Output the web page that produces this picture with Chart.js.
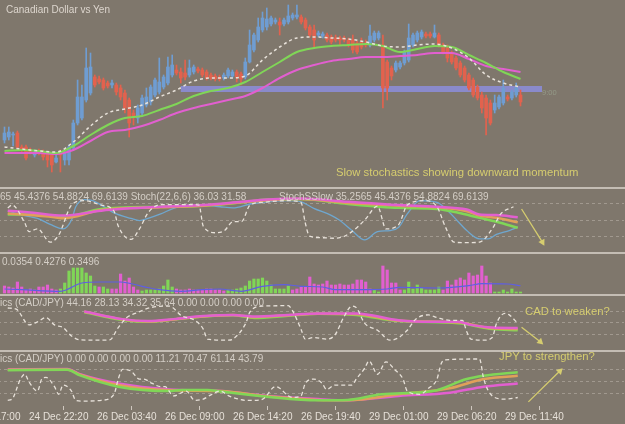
<!DOCTYPE html>
<html lang="en">
<head>
<meta charset="UTF-8">
<title>Canadian Dollar vs Yen</title>
<script src="https://cdn.jsdelivr.net/npm/chart.js"></script>
<style>
  html, body { margin: 0; padding: 0; }
  body { width: 625px; height: 424px; overflow: hidden; position: relative; background: #7f776c; font-family: "Liberation Sans", Arial, sans-serif; }
  canvas { position: absolute; left: -60px; }
  .sep { position: absolute; left: 0; width: 625px; height: 2px; background: #c4bdb4; }
  .lbl { position: absolute; white-space: nowrap; font-size: 10px; line-height: 12px; color: #d4cec6; }
  .note { position: absolute; white-space: nowrap; font-size: 11.3px; line-height: 13px; color: #d6cd6f; }
</style>
</head>
<body>
<canvas id="price" width="688" height="187" style="top:0"></canvas>
<canvas id="slow" width="688" height="63" style="top:189px"></canvas>
<canvas id="hist" width="688" height="40" style="top:254px"></canvas>
<canvas id="cad" width="688" height="54" style="top:296px"></canvas>
<canvas id="jpy" width="688" height="72" style="top:352px"></canvas>

<div class="sep" style="top:187px"></div>
<div class="sep" style="top:252px"></div>
<div class="sep" style="top:294px"></div>
<div class="sep" style="top:350px"></div>

<div class="lbl" style="left:6px; top:4px; color:#ddd6ce">Canadian Dollar vs Yen</div>
<div class="lbl" style="left:542px; top:87px; font-size:7.5px; color:#949a88">9:00</div>
<div class="lbl" style="left:-25px; top:191px">35.2565 45.4376 54.8824 69.6139 Stoch(22,6,6) 36.03 31.58</div>
<div class="lbl" style="left:279px; top:191px">StochSSlow 35.2565 45.4376 54.8824 69.6139</div>
<div class="lbl" style="left:2px; top:256px">0.0354 0.4276 0.3496</div>
<div class="lbl" style="left:-39px; top:297px">Stochastics (CAD/JPY) 44.16 28.13 34.32 35.64 0.00 0.00 0.00 0.00</div>
<div class="lbl" style="left:-39px; top:353px">Stochastics (CAD/JPY) 0.00 0.00 0.00 0.00 11.21 70.47 61.14 43.79</div>

<div class="note" style="left:336px; top:166px">Slow stochastics showing downward momentum</div>
<div class="note" style="left:525px; top:305px">CAD to weaken?</div>
<div class="note" style="left:499px; top:350px">JPY to strengthen?</div>

<script>
  // 20 minute bars, a time label every 16 bars
  const tickBars = [-11, 5, 21, 37, 53, 69, 85, 101, 117];
  const tickText = ['24 Dec 17:00', '24 Dec 22:20', '26 Dec 03:40', '26 Dec 09:00', '26 Dec 14:20',
    '26 Dec 19:40', '29 Dec 01:00', '29 Dec 06:20', '29 Dec 11:40'];

  // candles (price offset in chart units)
  const opens = [
    47, 50, 52, 54, 40, 40, 37, 32, 36, 35,
    33, 32, 25, 35, 27, 27, 39, 64, 69, 87,
    94, 110, 108, 107, 104, 102, 102, 99, 94, 87,
    74, 69, 74, 82, 85, 92, 95, 100, 104, 112,
    117, 115, 114, 112, 115, 118, 117, 115, 112, 111,
    110, 109, 111, 111, 115, 113, 110, 125, 137, 147,
    157, 160, 163, 165, 165, 163, 165, 169, 170, 170,
    167, 160, 157, 152, 151, 152, 150, 149, 149, 149,
    147, 147, 144, 145, 144, 142, 147, 149, 142, 125,
    119, 117, 120, 124, 127, 142, 147, 150, 153, 153,
    150, 152, 142, 139, 134, 129, 124, 119, 112, 107,
    100, 92, 89, 84, 77, 80, 84, 90, 89, 92,
    92];
  const closes = [
    54, 55, 53, 40, 37, 29, 35, 35, 34, 30,
    27, 22, 29, 32, 34, 40, 64, 90, 90, 119,
    120, 102, 105, 99, 101, 104, 95, 90, 79, 64,
    70, 79, 89, 90, 100, 107, 105, 110, 120, 122,
    114, 109, 110, 119, 120, 116, 112, 109, 109, 108,
    108, 112, 117, 115, 110, 108, 125, 142, 152, 160,
    169, 168, 169, 167, 162, 167, 171, 172, 172, 165,
    159, 152, 147, 154, 153, 147, 145, 147, 147, 147,
    142, 137, 135, 140, 142, 151, 154, 154, 99, 99,
    111, 124, 124, 135, 149, 152, 154, 155, 151, 151,
    154, 142, 135, 129, 125, 119, 112, 107, 99, 92,
    89, 79, 69, 64, 84, 90, 99, 88, 95, 99,
    85];
  const highs = [
    60, 60, 55, 56, 42, 42, 39, 37, 38, 37,
    35, 34, 32, 37, 37, 42, 67, 107, 102, 139,
    134, 112, 111, 109, 106, 107, 104, 102, 97, 89,
    77, 82, 92, 99, 102, 109, 129, 112, 130, 132,
    122, 119, 127, 127, 122, 120, 119, 117, 114, 113,
    112, 114, 119, 117, 117, 115, 129, 157, 154, 169,
    175, 179, 171, 169, 169, 169, 182, 174, 182, 172,
    169, 162, 162, 156, 155, 154, 152, 152, 151, 151,
    149, 152, 146, 149, 147, 162, 156, 156, 152, 127,
    121, 126, 126, 137, 163, 154, 156, 157, 155, 155,
    162, 154, 144, 142, 136, 131, 126, 121, 114, 109,
    102, 95, 92, 87, 92, 92, 107, 92, 97, 104,
    97];
  const lows = [
    44, 47, 41, 38, 35, 27, 33, 30, 32, 27,
    20, 15, 24, 15, 22, 22, 37, 62, 67, 85,
    92, 100, 103, 97, 99, 99, 92, 87, 74, 50,
    62, 64, 72, 80, 82, 90, 93, 98, 102, 110,
    112, 104, 107, 110, 113, 114, 110, 107, 107, 106,
    106, 107, 109, 109, 105, 102, 108, 124, 135, 145,
    155, 157, 161, 163, 152, 161, 163, 167, 168, 163,
    157, 150, 139, 150, 149, 145, 143, 145, 142, 145,
    140, 134, 133, 138, 140, 140, 145, 147, 79, 87,
    107, 115, 118, 122, 125, 140, 145, 148, 149, 149,
    149, 140, 133, 125, 123, 117, 110, 105, 97, 90,
    87, 74, 52, 62, 74, 78, 82, 86, 87, 90,
    81];

  // moving averages, read every 4th bar
  const maStep = 4;
  const maFast = [40, 38, 36, 35, 45, 61, 74, 78, 82, 90, 97, 106, 109, 109, 111, 127,
    140, 149, 150, 149, 148, 145, 141, 140, 142, 143, 139, 129, 112, 104, 100];
  const maMid = [36, 37, 36, 34, 41, 52, 62, 69, 71, 77, 83, 91, 96, 99, 105, 115,
    125, 135, 139, 141, 142, 143, 141, 135, 138, 141, 140, 132, 124, 115, 108];
  const maSlow = [34, 34, 34, 33, 37, 46, 55, 57, 61, 67, 74, 79, 83, 87, 91, 99,
    109, 117, 122, 126, 128, 130, 130, 131, 132, 134, 134, 128, 121, 118, 115];
  const levelLine = [[41, 98], [125, 98]];

  // histogram: + green bars, - magenta bars
  const histogram = [
    -7, -6, -5, -11, -6, -3, -4, -3, -6, -6,
    -8, -4, -3, 4, 10, 22, 25, 25, 25, 20,
    17, 7, -6, 6, 4, -4, -4, -19, -12, -15,
    -6, -3, 2, 3, 3, 3, 4, 7, 13, 6,
    -4, -3, -3, -4, -3, -3, -3, -4, -4, -3,
    -3, -2, 3, 3, 4, 5, 7, 12, 14, 14,
    15, 12, 8, 4, 4, 4, 7, -3, -4, -6,
    -6, -16, -9, -8, -9, -12, -8, -8, -9, -8,
    -8, -9, -13, -13, -11, -4, 3, 1, -27, -23,
    -10, -10, -3, 3, 11, 4, 8, 5, 3, 3,
    3, 6, -3, -12, -8, -13, -15, -13, -20, -17,
    -18, -27, -17, -10, 1, 1, 3, 1, 4, 1,
    1];
  const histSignal = [[0, 4], [4, 3.3], [13, 1.7], [18, 10], [22, 11], [27, 11], [32, 6.7], [36, 3.3],
    [41, 1.7], [46, 3.3], [50, 4], [55, 1.7], [60, 6.7], [65, 8.3], [69, 6.7], [74, 6], [77, 3.3],
    [84, 3.3], [89, 4], [92, 5.7], [101, 5], [108, 7.3], [111, 9.3], [117, 9], [120, 7.3]];

  // slow stochastics panel (bar, value)
  const slowMain = [[0, 72], [1, 77], [4, 45], [5, 29], [7, 34], [10, 10], [12, 23], [15, 77], [18, 85],
    [22, 77], [25, 66], [26, 39], [29, 15], [31, 34], [33, 63], [36, 78], [43, 78], [45, 77], [46, 39],
    [49, 27], [51, 31], [53, 47], [55, 47], [57, 77], [60, 82], [66, 85], [69, 82], [70, 45], [71, 21],
    [74, 18], [77, 17], [79, 20], [81, 29], [84, 50], [87, 75], [89, 34], [92, 42], [94, 77], [98, 85],
    [101, 74], [103, 37], [105, 10], [108, 9], [111, 10], [114, 34], [116, 61], [119, 74]];
  const slowSignal = [[0, 66], [4, 58], [7, 53], [10, 42], [13, 34], [15, 50], [16, 74], [18, 87], [20, 85],
    [22, 77], [25, 63], [29, 53], [31, 49], [33, 53], [36, 61], [39, 71], [43, 77], [46, 77], [50, 74],
    [53, 72], [57, 79], [61, 83], [66, 85], [69, 83], [72, 71], [76, 59], [78, 50], [81, 31], [84, 14],
    [87, 29], [90, 31], [92, 37], [94, 61], [97, 85], [101, 82], [103, 71], [106, 47], [108, 31],
    [111, 16], [113, 16], [115, 24], [118, 31], [120, 37]];
  const slowMagenta = [[0, 67], [6, 63], [13, 58], [22, 67], [36, 74], [46, 77], [55, 83], [61, 87], [69, 89],
    [80, 83], [92, 77], [101, 74], [108, 69], [111, 60], [115, 59], [120, 55]];
  const slowOrange = [[0, 62], [11, 55], [13, 53], [22, 68], [36, 73], [46, 76], [55, 82], [61, 86], [69, 88],
    [80, 81], [92, 76], [104, 71], [108, 66], [111, 58], [115, 54], [120, 46]];
  const slowGreen = [[0, 60], [6, 60], [13, 55], [22, 70], [36, 74], [46, 76], [55, 82], [61, 87], [69, 88],
    [80, 79], [92, 72], [101, 70], [106, 63], [111, 54], [115, 47], [120, 36]];

  // Stochastics (CAD/JPY), first panel
  const cadMain = [[0, 88], [2, 85], [5, 44], [7, 52], [9, 63], [11, 44], [13, 37], [15, 15], [17, 5], [21, 4],
    [24, 5], [26, 37], [28, 63], [30, 74], [34, 90], [38, 93], [41, 67], [44, 56], [46, 33], [47, 7],
    [52, 4], [53, 7], [56, 48], [57, 78], [60, 93], [66, 94], [67, 81], [69, 33], [70, 7], [72, 11],
    [75, 7], [77, 18], [79, 63], [81, 93], [82, 89], [84, 48], [87, 30], [90, 4], [92, 11], [94, 30],
    [96, 59], [99, 70], [101, 63], [104, 56], [107, 56], [108, 26], [109, 7], [112, 4], [114, 11],
    [115, 48], [117, 74], [118, 70], [120, 48]];
  const cadMagenta = [[18, 79], [27, 59], [33, 54], [39, 59], [46, 67], [53, 70], [58, 66], [66, 70], [73, 74],
    [82, 74], [92, 56], [100, 52], [106, 52], [109, 44], [114, 37], [120, 36]];
  const cadOrange = [[18, 78], [27, 58], [33, 53], [39, 58], [46, 66], [53, 70], [58, 64], [66, 69], [73, 73],
    [82, 72], [92, 55], [106, 50], [114, 35], [120, 33]];
  const cadGreen = [[18, 77], [27, 57], [33, 52], [39, 58], [46, 66], [53, 69], [58, 62], [66, 68], [73, 73],
    [82, 70], [92, 54], [106, 48], [114, 33], [120, 30]];

  // Stochastics (CAD/JPY), second panel
  const jpyMain = [[0, 2], [1, 5], [3, 55], [4, 67], [5, 48], [7, 25], [8, 55], [9, 59], [11, 36], [12, 17],
    [13, 40], [15, 25], [16, 2], [18, 0], [22, 2], [25, 17], [26, 55], [27, 79], [29, 75], [31, 55],
    [32, 55], [34, 44], [36, 36], [37, 36], [39, 13], [42, 25], [44, 2], [46, 5], [48, 17], [50, 25],
    [52, 13], [53, 9], [56, 2], [58, 2], [60, 5], [63, 36], [64, 32], [66, 13], [67, 9], [69, 13],
    [70, 44], [72, 55], [74, 44], [75, 29], [77, 40], [81, 40], [82, 55], [84, 82], [85, 100], [87, 67],
    [89, 98], [91, 79], [93, 55], [94, 25], [97, 17], [99, 32], [101, 55], [102, 94], [103, 103],
    [111, 105], [112, 55], [114, 13], [117, 5], [120, 9]];
  const jpyMagenta = [[0, 79], [14, 80], [17, 67], [26, 44], [38, 29], [50, 25], [61, 13], [73, 5], [80, 2],
    [92, 13], [104, 21], [112, 36], [120, 44]];
  const jpyOrange = [[0, 78], [14, 79], [17, 66], [26, 40], [38, 27], [50, 25], [61, 12], [73, 3], [80, 2],
    [92, 17], [104, 32], [112, 55], [120, 63]];
  const jpyGreen = [[0, 77], [14, 78], [17, 64], [26, 36], [38, 25], [41, 28], [47, 28], [50, 24], [61, 11],
    [73, 2], [80, 3], [88, 17], [100, 25], [108, 55], [112, 63], [120, 72]];

  // annotation arrows (bar, value)
  const arrowSlow = [[120.9, 70], [125.8, 10]];
  const arrowCad = [[120.9, 38], [125.3, 0]];
  const arrowJpy = [[122.5, -2], [129.9, 75]];

  const BLUE = '#6f9dd2', RED = '#e2624e', GREEN = '#80d657', MAGENTA = '#e25fd0', ORANGE = '#e0a05a';
  const DASH = '#e8e2da', YELLOW = '#d6cd6f';
  const X_MIN = -15, X_MAX = 145;

  Chart.defaults.font.family = "'Liberation Sans', Arial, sans-serif";
  Chart.defaults.animation = false;

  const xy = arr => arr.map(([x, y]) => ({ x, y }));

  function line(data, color, width, extra) {
    return Object.assign({
      type: 'line', data, borderColor: color, borderWidth: width, pointRadius: 0,
      fill: false, cubicInterpolationMode: 'monotone', order: 1
    }, extra);
  }

  function arrow(pts, rot) {
    return line(xy(pts), YELLOW, 1.3, {
      cubicInterpolationMode: 'default', pointRadius: [0, 4], pointStyle: 'triangle',
      pointRotation: [0, rot], pointBackgroundColor: YELLOW, pointBorderWidth: 0, clip: false, order: 0
    });
  }

  function xAxis(show) {
    return {
      type: 'linear', min: X_MIN, max: X_MAX, offset: false, display: show,
      afterBuildTicks: s => { s.ticks = tickBars.map(v => ({ value: v })); },
      afterFit: s => { s.height = show ? 18 : 0; },
      grid: { drawOnChartArea: false, tickLength: 4, color: '#cfc8bf' },
      border: { display: false },
      ticks: {
        autoSkip: false, maxRotation: 0, align: 'start', padding: 1, color: '#e6e0d8',
        font: { size: 10 }, callback: (v, i) => tickText[i]
      }
    };
  }

  function yAxis(min, max, levels) {
    return {
      min, max, display: levels.length > 0,
      afterFit: s => { s.width = 0; },
      afterBuildTicks: s => { s.ticks = levels.map(v => ({ value: v })); },
      ticks: { display: false },
      grid: { drawTicks: false, color: 'rgba(205,196,186,0.45)', lineWidth: 1 },
      border: { display: false, dash: [3, 3] }
    };
  }

  function panel(id, datasets, yMin, yMax, levels, showX) {
    new Chart(document.getElementById(id), {
      type: 'bar',
      data: { datasets },
      options: {
        responsive: false, events: [],
        layout: { padding: 0 },
        plugins: { legend: { display: false }, tooltip: { enabled: false } },
        scales: { x: xAxis(showX), y: yAxis(yMin, yMax, levels) }
      }
    });
  }

  // price panel
  const bodyUp = [], bodyDn = [], wickUp = [], wickDn = [];
  closes.forEach((c, i) => {
    const up = c >= opens[i];
    (up ? bodyUp : bodyDn).push({ x: i, y: [opens[i], c] });
    (up ? wickUp : wickDn).push({ x: i, y: [lows[i], highs[i]] });
  });
  const ma = arr => arr.map((v, k) => ({ x: k * maStep, y: v }));

  panel('price', [
    line(ma(maFast), DASH, 1.5, { borderDash: [3, 3], order: 0 }),
    line(ma(maMid), GREEN, 2, { order: 1 }),
    line(ma(maSlow), MAGENTA, 2, { order: 1 }),
    { data: bodyUp, backgroundColor: BLUE, barThickness: 3, grouped: false, minBarLength: 1, order: 4 },
    { data: bodyDn, backgroundColor: RED, barThickness: 3, grouped: false, minBarLength: 1, order: 4 },
    { data: wickUp, backgroundColor: BLUE, barThickness: 1, grouped: false, order: 5 },
    { data: wickDn, backgroundColor: RED, barThickness: 1, grouped: false, order: 5 },
    line(xy(levelLine), 'rgba(140,140,214,0.9)', 6, { borderCapStyle: 'butt', order: 9 })
  ], 0, 187, [], false);

  // slow stochastics
  panel('slow', [
    line(xy(slowMain), DASH, 1.3, { borderDash: [4, 3], order: 0 }),
    line(xy(slowMagenta), MAGENTA, 2.5, { order: 1 }),
    line(xy(slowOrange), ORANGE, 2.5, { order: 2 }),
    line(xy(slowGreen), GREEN, 2.5, { order: 3 }),
    line(xy(slowSignal), '#6fa7cf', 1.3, { order: 4 }),
    arrow(arrowSlow, 151)
  ], -0.6, 98.9, [20, 50, 80], false);

  // histogram
  const histUp = histogram.map((v, i) => v > 0 ? { x: i, y: v } : null).filter(Boolean);
  const histDn = histogram.map((v, i) => v < 0 ? { x: i, y: -v } : null).filter(Boolean);
  panel('hist', [
    line(xy(histSignal), '#5e5ee4', 1.2, { order: 0 }),
    { data: histUp, backgroundColor: GREEN, barThickness: 2.5, grouped: false, order: 2 },
    { data: histDn, backgroundColor: MAGENTA, barThickness: 2.5, grouped: false, order: 2 }
  ], -1, 39, [], false);

  // Stochastics CAD
  panel('cad', [
    line(xy(cadMain), DASH, 1.3, { borderDash: [4, 3], order: 0 }),
    line(xy(cadMagenta), MAGENTA, 2.5, { order: 1 }),
    line(xy(cadOrange), ORANGE, 2.5, { order: 2 }),
    line(xy(cadGreen), GREEN, 2.5, { order: 3 }),
    arrow(arrowCad, 132)
  ], -11.1, 108.9, [20, 50, 80], false);

  // Stochastics JPY
  panel('jpy', [
    line(xy(jpyMain), DASH, 1.3, { borderDash: [4, 3], order: 0 }),
    line(xy(jpyMagenta), MAGENTA, 2.5, { order: 3 }),
    line(xy(jpyOrange), ORANGE, 2.5, { order: 2 }),
    line(xy(jpyGreen), GREEN, 2.5, { order: 1 }),
    arrow(arrowJpy, 44)
  ], -12.2, 112.5, [20, 50, 80], true);
</script>
</body>
</html>
